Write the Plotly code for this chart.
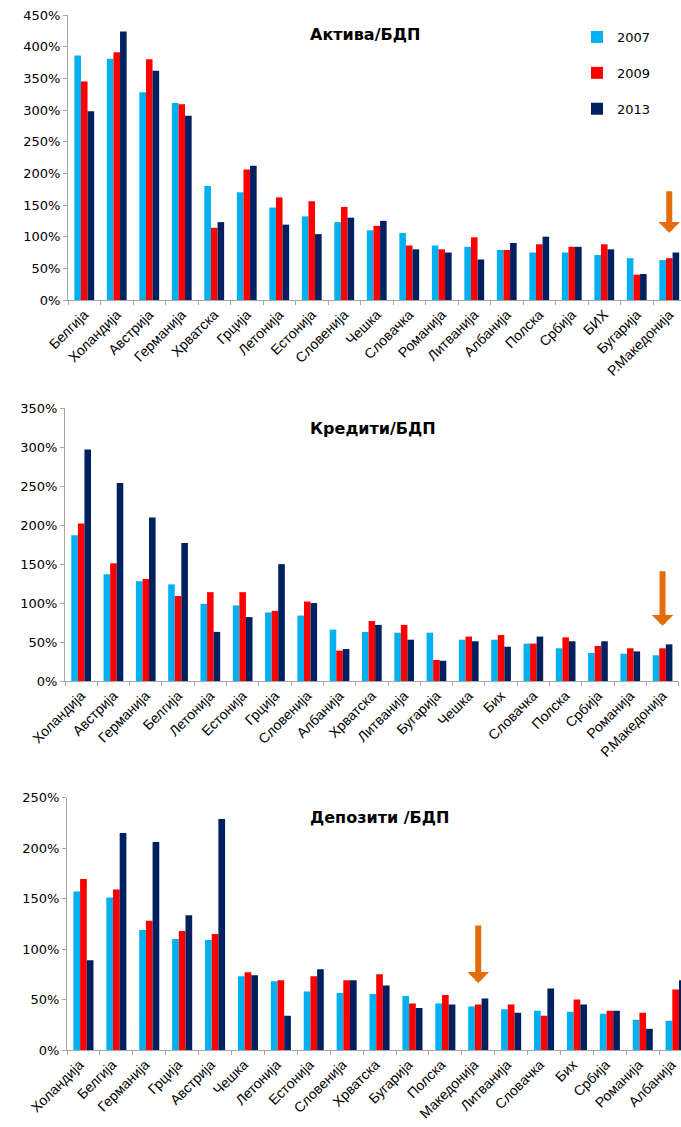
import plotly.graph_objects as go

# Assets / GDP (%)
assets_countries = ["Белгија", "Холандија", "Австрија", "Германија", "Хрватска", "Грција",
                    "Летонија", "Естонија", "Словенија", "Чешка", "Словачка", "Романија",
                    "Литванија", "Албанија", "Полска", "Србија", "БИХ", "Бугарија", "Р.Македонија"]
assets_2007 = [386, 381, 328, 311, 180, 170, 146, 132, 123, 110, 106, 86, 84, 79, 75, 75, 71, 66, 63]
assets_2009 = [345, 391, 380, 309, 114, 206, 162, 156, 147, 117, 86, 80, 99, 79, 88, 84, 88, 40, 66]
assets_2013 = [298, 424, 362, 291, 123, 212, 119, 104, 130, 125, 80, 75, 64, 90, 100, 84, 80, 41, 75]

# Loans / GDP (%)
loans_countries = ["Холандија", "Австрија", "Германија", "Белгија", "Летонија", "Естонија",
                   "Грција", "Словенија", "Албанија", "Хрватска", "Литванија", "Бугарија",
                   "Чешка", "Бих", "Словачка", "Полска", "Србија", "Романија", "Р.Македонија"]
loans_2007 = [187, 137, 128, 124, 99, 97, 88, 84, 66, 63, 62, 62, 53, 53, 48, 42, 36, 35, 33]
loans_2009 = [202, 151, 131, 109, 114, 114, 90, 102, 39, 77, 72, 27, 57, 59, 48, 56, 45, 42, 42]
loans_2013 = [297, 254, 210, 177, 63, 82, 150, 100, 41, 72, 53, 26, 51, 44, 57, 51, 51, 38, 47]

# Deposits / GDP (%)
deposits_countries = ["Холандија", "Белгија", "Германија", "Грција", "Австрија", "Чешка",
                      "Летонија", "Естонија", "Словенија", "Хрватска", "Бугарија", "Полска",
                      "Македонија", "Литванија", "Словачка", "Бих", "Србија", "Романија", "Албанија"]
deposits_2007 = [157, 151, 119, 110, 109, 73, 68, 58, 56.5, 55.5, 53.5, 46, 43, 40.5, 39, 38, 36, 30, 29]
deposits_2009 = [169.5, 159, 128, 118, 115, 77, 69, 73, 69, 75, 46, 54.5, 45, 45, 34, 50, 39, 37, 60]
deposits_2013 = [89, 215, 206, 133.5, 229, 74, 34, 80, 69, 64, 41.5, 45, 51, 37, 61, 45, 39, 21, 69]

years = ["2007", "2009", "2013"]
colors = ["#00B0F0", "#FF0000", "#002060"]

W, H = 681, 1127

panels = [
    dict(cats=assets_countries, vals=[assets_2007, assets_2009, assets_2013],
         title="Актива/БДП", ymax=450, highlight="Р.Македонија",
         arrow_tip=106, arrow_len=43, label_shift=0,
         px_left=68, px_right=681, cat_w=32.5, px_top=15, px_bottom=300,
         title_xy=(365, 35)),
    dict(cats=loans_countries, vals=[loans_2007, loans_2009, loans_2013],
         title="Кредити/БДП", ymax=350, highlight="Р.Македонија",
         arrow_tip=71, arrow_len=56, label_shift=0,
         px_left=65, px_right=679, cat_w=32.3, px_top=408.3, px_bottom=681,
         title_xy=(373, 428)),
    dict(cats=deposits_countries, vals=[deposits_2007, deposits_2009, deposits_2013],
         title="Депозити /БДП", ymax=250, highlight="Македонија",
         arrow_tip=66.5, arrow_len=59, label_shift=-4,
         px_left=67, px_right=681, cat_w=32.9, px_top=797.7, px_bottom=1050,
         title_xy=(379, 817)),
]

fig = go.Figure()
axis_grey = "#A6A6A6"

for i, p in enumerate(panels):
    suffix = "" if i == 0 else str(i + 1)
    xname, yname = "x" + suffix, "y" + suffix
    for year, color, vals in zip(years, colors, p["vals"]):
        fig.add_trace(go.Bar(
            x=p["cats"], y=vals, name=year, marker_color=color,
            marker_line_width=0, xaxis=xname, yaxis=yname,
            showlegend=(i == 0), legendgroup=year,
        ))

    n_visible = (p["px_right"] - p["px_left"]) / p["cat_w"]
    fig.layout["xaxis" + suffix] = dict(
        domain=[p["px_left"] / W, p["px_right"] / W], anchor=yname,
        type="category", range=[-0.5, -0.5 + n_visible],
        showline=True, linecolor=axis_grey, linewidth=1,
        ticks="outside", tickson="boundaries", ticklen=4, tickcolor=axis_grey,
        tickangle=-45, ticklabelshift=p["label_shift"],
        tickfont=dict(family="Liberation Sans", size=14, color="#000000"),
        showgrid=False, zeroline=False, automargin=False,
    )
    fig.layout["yaxis" + suffix] = dict(
        domain=[1 - p["px_bottom"] / H, 1 - p["px_top"] / H], anchor=xname,
        range=[0, p["ymax"]], dtick=50, ticksuffix="%",
        showline=True, linecolor=axis_grey, linewidth=1,
        ticks="outside", ticklen=4, tickcolor=axis_grey,
        tickfont=dict(family="DejaVu Sans", size=13, color="#000000"),
        showgrid=False, zeroline=False, automargin=False,
    )

    tx, ty = p["title_xy"]
    fig.add_annotation(
        x=tx / W, y=1 - ty / H, xref="paper", yref="paper", showarrow=False,
        text="<b>" + p["title"] + "</b>",
        font=dict(family="DejaVu Sans", size=16, color="#000000"),
        xanchor="center", yanchor="middle",
    )

    # orange pointer above the Macedonian bars
    fig.add_annotation(
        x=p["highlight"], y=p["arrow_tip"], xref=xname, yref=yname,
        text="", showarrow=True, ax=0, ay=-p["arrow_len"],
        arrowhead=1, arrowwidth=6, arrowsize=0.6, arrowcolor="#E46C0A",
    )

fig.update_layout(
    width=W, height=H,
    margin=dict(l=0, r=0, t=0, b=0),
    paper_bgcolor="white", plot_bgcolor="white",
    barmode="group", bargap=0.39, bargroupgap=0,
    showlegend=True,
    legend=dict(
        x=577 / W, y=1 - 22 / H, xanchor="left", yanchor="top",
        font=dict(family="DejaVu Sans", size=13, color="#000000"),
        bgcolor="rgba(0,0,0,0)", tracegroupgap=16, itemwidth=30,
    ),
)

fig.write_html("out.html")
